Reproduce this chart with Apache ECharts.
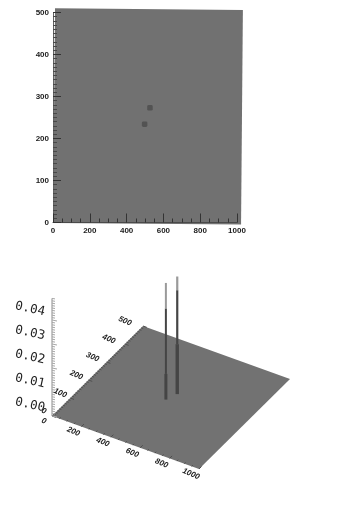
<!DOCTYPE html>
<html><head><meta charset="utf-8">
<style>html,body{margin:0;padding:0;background:#fff}#c{width:346px;height:512px}</style>
<script src="https://cdn.jsdelivr.net/npm/echarts@6/dist/echarts.min.js"></script>
</head><body><div id="c"></div>
<script>
// Data
const imageOutline = [[11,510],[1032,506],[1022,-5],[0,-1]];
const peaks = [[527,273],[498,234]];
const floorCorners = [[0,0],[1000,0],[1000,500],[0,500]];
const xTicks3d = [0,200,400,600,800,1000];
const yTicks3d = [0,100,200,300,400,500];
const zTicks3d = ['0.00','0.01','0.02','0.03','0.04'];
const spikes = [
  // x, y, zFrom, zTo, width, colour index
  [485,234,0,0.0107,3,0],[485,234,0.0107,0.038,2,0],[485,234,0.038,0.0486,2,1],
  [514,273,0,0.0208,3.4,0],[514,273,0.0208,0.0433,2.2,0],[514,273,0.0433,0.049,2.2,1]
];
const spikeColours = ['#454545','#9a9a9a'];
const zAxisTop = 0.049;

// Oblique projection of the lower surface view
const O = [52,416], XV = [147/1000,53/1000], YV = [91/500,-90/500], ZS = 2400;
const proj = (x,y,z=0) => [O[0]+x*XV[0]+y*YV[0], O[1]+x*XV[1]+y*YV[1]-z*ZS];
const line = (a,b,stroke,w) => ({type:'line',shape:{x1:a[0],y1:a[1],x2:b[0],y2:b[1]},style:{stroke,lineWidth:w}});
const rangeList = (n) => Array.from({length:n},(_,i)=>i);

const axisColor = '#333';
const labelFont = {fontFamily:'Liberation Sans',fontSize:8,fontWeight:'bold',color:'#222',formatter:(v)=>String(v)};

const option = {
  animation:false,
  backgroundColor:'#fff',
  grid:[
    {left:53,width:184,top:12.5,height:210,containLabel:false},
    {left:0,top:0,width:346,height:512}
  ],
  xAxis:[
    {gridIndex:0,type:'value',min:0,max:1000,interval:200,z:5,
     axisLine:{show:true,lineStyle:{color:'#4a4a4a',width:1}},
     axisTick:{show:true,inside:true,length:9,lineStyle:{color:axisColor,width:1}},
     minorTick:{show:true,splitNumber:4,length:4,lineStyle:{color:axisColor,width:1}},
     axisLabel:{...labelFont,margin:4},splitLine:{show:false}},
    {gridIndex:1,type:'value',min:0,max:346,show:false}
  ],
  yAxis:[
    {gridIndex:0,type:'value',min:0,max:500,interval:100,z:5,
     axisLine:{show:true,lineStyle:{color:'#626262',width:1}},
     axisTick:{show:true,inside:true,length:8,lineStyle:{color:axisColor,width:1}},
     minorTick:{show:true,splitNumber:10,length:4,lineStyle:{color:'#484848',width:1}},
     axisLabel:{...labelFont,margin:4},splitLine:{show:false}},
    {gridIndex:1,type:'value',min:0,max:512,inverse:true,show:false}
  ],
  series:[
    {type:'custom',xAxisIndex:0,yAxisIndex:0,z:1,silent:true,data:[0],
     renderItem:(p,api)=>({type:'polygon',shape:{points:imageOutline.map(c=>api.coord(c))},style:{fill:'#717171'}})},
    {type:'scatter',xAxisIndex:0,yAxisIndex:0,z:3,silent:true,data:peaks,symbol:'roundRect',symbolSize:5.5,
     itemStyle:{color:'#4c4c4c'}},

    // floor of surface
    {type:'custom',xAxisIndex:1,yAxisIndex:1,z:2,silent:true,data:[0],
     renderItem:(p,api)=>({type:'polygon',shape:{points:floorCorners.map(c=>api.coord(proj(c[0],c[1])))},style:{fill:'#727272'}})},
    // floor ticks and z axis
    {type:'custom',xAxisIndex:1,yAxisIndex:1,z:3,silent:true,data:[0],
     renderItem:(p,api)=>{
       const ch=[];
       const c=(x,y,z)=>api.coord(proj(x,y,z));
       rangeList(21).forEach(i=>{const x=i*50,m=i%4===0;ch.push(line(c(x,0),c(x,m?14:7),'#4e4e4e',1));});
       rangeList(51).forEach(i=>{const y=i*10,m=i%10===0;ch.push(line(c(0,y),c(m?26:14,y),'#505050',1));});
       ch.push(line(c(0,0,0),c(0,0,zAxisTop),'#8a8a8a',1));
       rangeList(50).forEach(i=>{const z=i*0.001,m=i%10===0;const a=c(0,0,z);ch.push(line(a,[a[0]+(m?5:3),a[1]+(m?1:0.5)],'#a8a8a8',1));});
       return {type:'group',children:ch};
     }},
    // spikes
    {type:'custom',xAxisIndex:1,yAxisIndex:1,z:4,silent:true,data:spikes,
     renderItem:(p,api)=>{
       const x=api.value(0),y=api.value(1),a=api.coord(proj(x,y,api.value(2))),b=api.coord(proj(x,y,api.value(3)));
       return line(a,b,spikeColours[api.value(5)],api.value(4));
     }},
    // labels
    {type:'custom',xAxisIndex:1,yAxisIndex:1,z:6,silent:true,data:[0],
     renderItem:(p,api)=>{
       const ch=[];
       const txt=(t,pt,rot,font)=>({type:'text',x:pt[0],y:pt[1],rotation:rot,style:{text:t,align:'center',verticalAlign:'middle',fill:'#222',font}});
       const smallFont='italic bold 8px "Liberation Sans"';
       xTicks3d.forEach(x=>{const a=api.coord(proj(x,0));ch.push(txt(String(x),[a[0]-8,a[1]+5],-0.4,smallFont));});
       yTicks3d.forEach(y=>{const a=api.coord(proj(0,y));ch.push(txt(String(y),[a[0]-8-y*0.02,a[1]-5],-0.4,smallFont));});
       zTicks3d.forEach((z,i)=>{const a=api.coord(proj(0,0,+z));ch.push(txt(z,[a[0]-22,a[1]-11],-0.22,'12.5px "DejaVu Sans Mono"'));});
       return {type:'group',children:ch};
     }}
  ]
};
echarts.init(document.getElementById('c')).setOption(option);
</script></body></html>
